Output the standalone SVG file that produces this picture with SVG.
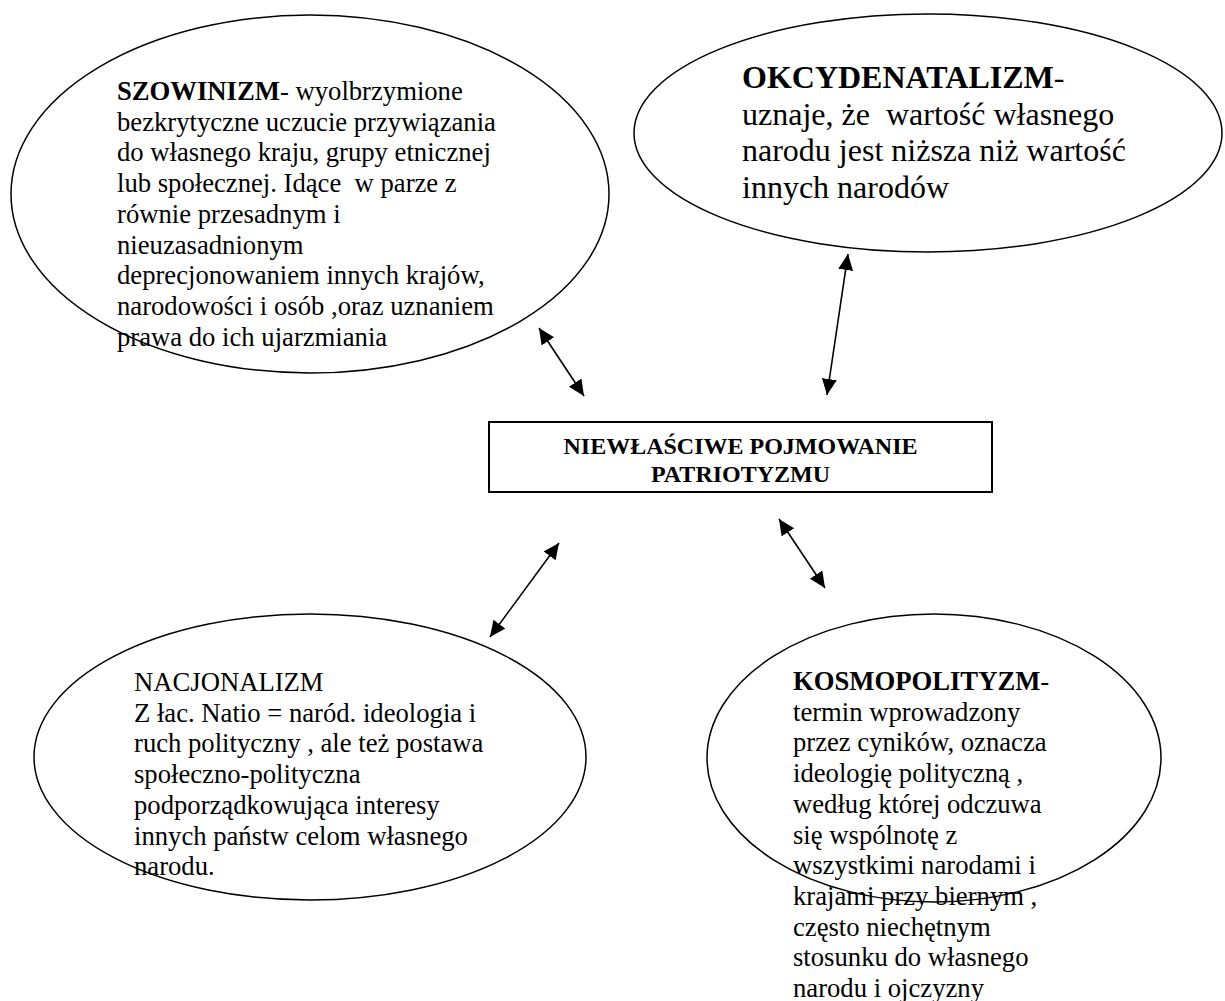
<svg xmlns="http://www.w3.org/2000/svg" width="1225" height="1001" viewBox="0 0 1225 1001">
<style>
  .shape { fill: none; stroke: #000; stroke-width: 1.5; }
  .box { fill: #fff; stroke: #000; stroke-width: 2; }
  .t { font-family: "Liberation Serif", "Times New Roman", serif; fill: #000; }
  .s20 { font-size: 26.67px; }
  .s24 { font-size: 32px; }
  .s18 { font-size: 24px; }
  .b { font-weight: bold; }
  .conn { stroke: #000; stroke-width: 1.6; fill: none; marker-start: url(#ah); marker-end: url(#ah); }
</style>
<defs>
  <marker id="ah" markerUnits="userSpaceOnUse" markerWidth="17" markerHeight="16" refX="16" refY="7.5" orient="auto-start-reverse" viewBox="0 0 17 16">
    <path d="M0,0 L16,7.5 L0,15 z" fill="#000"/>
  </marker>
</defs>
<rect width="1225" height="1001" fill="#fff"/>

<g id="node-szowinizm">
  <ellipse class="shape" cx="310" cy="194" rx="299" ry="179"/>
  <text class="t s20"><tspan x="117" y="100"><tspan class="b">SZOWINIZM</tspan>- wyolbrzymione</tspan><tspan x="117" y="130.7">bezkrytyczne uczucie przywiązania</tspan><tspan x="117" y="161.4">do własnego kraju, grupy etnicznej</tspan><tspan x="117" y="192.1">lub społecznej. Idące&#160; w parze z</tspan><tspan x="117" y="222.8">równie przesadnym i</tspan><tspan x="117" y="253.5">nieuzasadnionym</tspan><tspan x="117" y="284.2">deprecjonowaniem innych krajów,</tspan><tspan x="117" y="314.9">narodowości i osób ,oraz uznaniem</tspan><tspan x="117" y="345.6">prawa do ich ujarzmiania</tspan></text>
</g>

<g id="node-okcydentalizm">
  <ellipse class="shape" cx="928" cy="133" rx="294" ry="119"/>
  <text class="t s24"><tspan x="742" y="88"><tspan class="b">OKCYDENATALIZM</tspan>-</tspan><tspan x="742" y="124.5">uznaje, że&#160; wartość własnego</tspan><tspan x="742" y="161">narodu jest niższa niż wartość</tspan><tspan x="742" y="197.5">innych narodów</tspan></text>
</g>

<g id="node-center">
  <rect class="box" x="489" y="422" width="503" height="70"/>
  <text class="t s18 b" text-anchor="middle"><tspan x="740.5" y="454">NIEWŁAŚCIWE POJMOWANIE</tspan><tspan x="740.5" y="482">PATRIOTYZMU</tspan></text>
</g>

<g id="node-nacjonalizm">
  <ellipse class="shape" cx="310" cy="757" rx="276" ry="143"/>
  <text class="t s20"><tspan x="134" y="691">NACJONALIZM</tspan><tspan x="134" y="721.7">Z łac. Natio = naród. ideologia i</tspan><tspan x="134" y="752.4">ruch polityczny , ale też postawa</tspan><tspan x="134" y="783.1">społeczno-polityczna</tspan><tspan x="134" y="813.8">podporządkowująca interesy</tspan><tspan x="134" y="844.5">innych państw celom własnego</tspan><tspan x="134" y="875.2">narodu.</tspan></text>
</g>

<g id="node-kosmopolityzm">
  <text class="t s20"><tspan x="793" y="690"><tspan class="b">KOSMOPOLITYZM</tspan>-</tspan><tspan x="793" y="720.7">termin wprowadzony</tspan><tspan x="793" y="751.4">przez cyników, oznacza</tspan><tspan x="793" y="782.1">ideologię polityczną ,</tspan><tspan x="793" y="812.8">według której odczuwa</tspan><tspan x="793" y="843.5">się wspólnotę z</tspan><tspan x="793" y="874.2">wszystkimi narodami i</tspan><tspan x="793" y="904.9">krajami przy biernym ,</tspan><tspan x="793" y="935.6">często niechętnym</tspan><tspan x="793" y="966.3">stosunku do własnego</tspan><tspan x="793" y="997">narodu i ojczyzny</tspan></text>
  <ellipse class="shape" cx="934" cy="758" rx="227" ry="144"/>
</g>

<g id="connectors">
  <line class="conn" x1="539" y1="328" x2="584" y2="396"/>
  <line class="conn" x1="848" y1="254" x2="827" y2="395"/>
  <line class="conn" x1="559" y1="543" x2="490" y2="637"/>
  <line class="conn" x1="779" y1="519" x2="825" y2="588"/>
</g>
</svg>
